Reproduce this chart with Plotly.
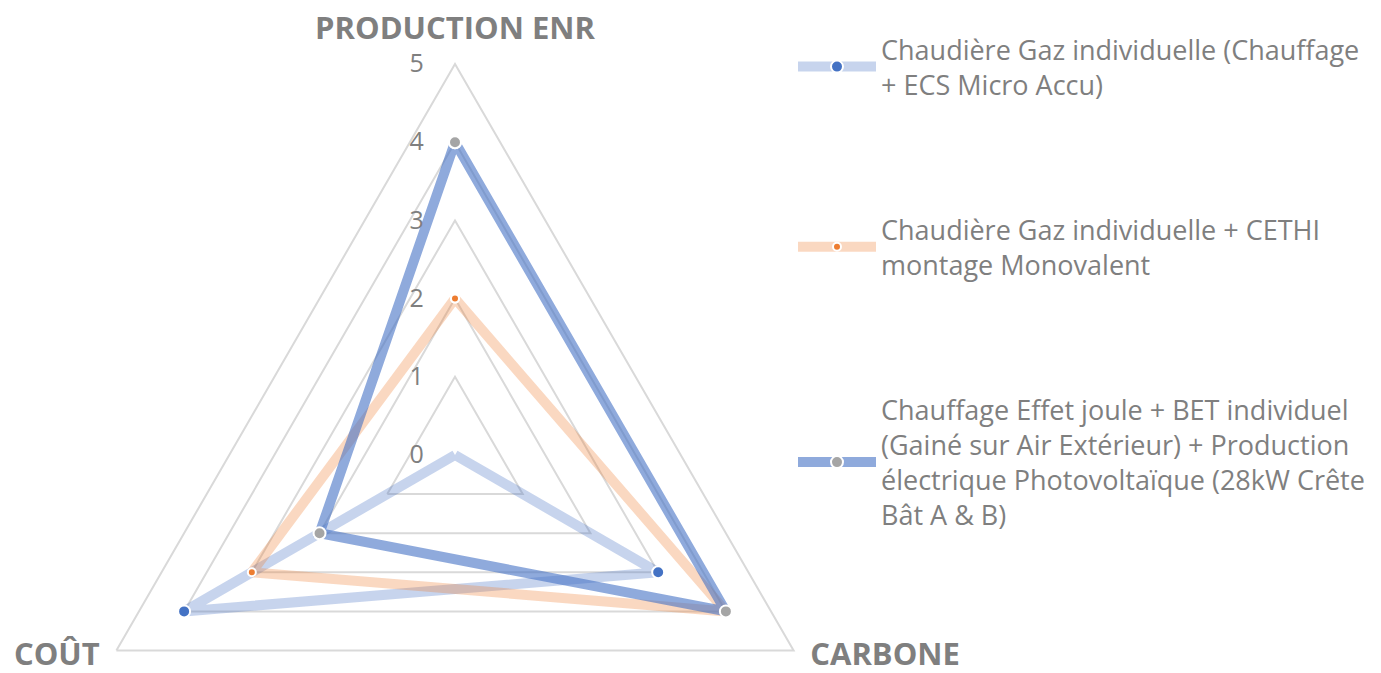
import plotly.graph_objects as go

categories = ["PRODUCTION ENR", "CARBONE", "COÛT"]
category_labels = ["PRODUCTION ENR", "CARBONE<br> <br> ", "COÛT<br> <br> "]
series_names = [
    "Chaudière Gaz individuelle (Chauffage<br>+ ECS Micro Accu)",
    "Chaudière Gaz individuelle + CETHI<br>montage Monovalent",
    "Chauffage Effet joule + BET individuel<br>(Gainé sur Air Extérieur) + Production<br>électrique Photovoltaïque (28kW Crête<br>Bât A & B)",
]
s1_values = [0, 3, 4]
s2_values = [2, 4, 3]
s3_values = [4, 4, 2]
radial_ticks = [0, 1, 2, 3, 4, 5]

line_colors = ["rgba(68,114,196,0.30)", "rgba(237,125,49,0.30)", "rgba(68,114,196,0.60)"]
marker_colors = ["#4472C4", "#ED7D31", "#A5A5A5"]
marker_sizes = [12, 8, 12]

GRID = "#d9d9d9"
TEXT = "#7f7f7f"
FONT = "Open Sans"
W = 1381
H = 900

fig = go.Figure()

for i, vals in enumerate([s1_values, s2_values, s3_values]):
    fig.add_trace(go.Scatterpolar(
        r=vals + vals[:1],
        theta=categories + categories[:1],
        name=series_names[i],
        legendgroup=f"g{i}",
        mode="lines+markers",
        line=dict(color=line_colors[i], width=10),
        marker=dict(color=marker_colors[i], size=marker_sizes[i],
                    line=dict(color="white", width=2)),
    ))

fig.update_layout(
    width=W, height=H,
    margin=dict(l=0, r=0, t=0, b=0),
    paper_bgcolor="white",
    font=dict(family=FONT, color=TEXT, size=25),
    polar=dict(
        domain=dict(x=[64 / W, 846 / W], y=[1 - 846 / H, 1 - 64 / H]),
        gridshape="linear",
        bgcolor="rgba(0,0,0,0)",
        angularaxis=dict(
            rotation=90, direction="clockwise",
            categoryorder="array", categoryarray=categories,
            tickmode="array", tickvals=categories, ticktext=category_labels,
            showline=True, linecolor=GRID, linewidth=2,
            showgrid=False, ticks="outside", ticklen=12,
            tickcolor="rgba(0,0,0,0)",
            tickfont=dict(family=FONT, size=31, color=TEXT, weight="bold"),
        ),
        radialaxis=dict(
            range=[0, 5], tickvals=radial_ticks, angle=90, tickangle=90,
            side="counterclockwise",
            showline=False, gridcolor=GRID, gridwidth=2,
            ticks="outside", ticklen=22, tickcolor="rgba(0,0,0,0)",
            tickfont=dict(family=FONT, size=25, color=TEXT),
        ),
    ),
    legend=dict(
        x=793 / W, y=1 - 25 / H, xanchor="left", yanchor="top",
        font=dict(family=FONT, size=27, color=TEXT),
        tracegroupgap=107, itemwidth=78,
        bgcolor="rgba(0,0,0,0)",
    ),
    showlegend=True,
)

fig.write_html(
    "out.html",
    config={"displayModeBar": False},
    post_script="document.body.style.margin='0';document.body.style.overflow='hidden';",
)
